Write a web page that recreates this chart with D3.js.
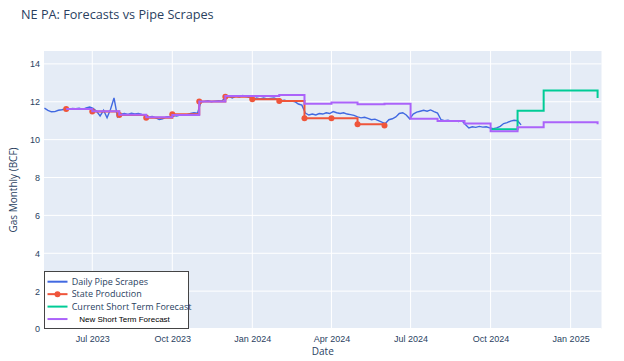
<!DOCTYPE html>
<html>
<head>
<meta charset="utf-8">
<script src="https://cdn.jsdelivr.net/npm/d3@7"></script>
<style>
  body { margin: 0; background: #fff; }
  svg { display: block; font-family: "Open Sans", sans-serif; }
  .tick text { fill: #2a3f5f; font-size: 9px; }
  .legend-label { fill: #2a3f5f; font-size: 9px; }
</style>
</head>
<body>
<svg id="chart" width="624" height="361"></svg>
<script>
// monthly series (first of month)
const stateMonths = ['2023-06-01','2023-07-01','2023-08-01','2023-09-01','2023-10-01','2023-11-01','2023-12-01',
  '2024-01-01','2024-02-01','2024-03-01','2024-04-01','2024-05-01','2024-06-01'];
const stateValues = [11.62, 11.48, 11.30, 11.15, 11.34, 12.01, 12.27, 12.13, 12.04, 11.13, 11.13, 10.81, 10.74];

const currentMonths = ['2024-10-01','2024-11-01','2024-12-01','2025-01-01','2025-02-01'];
const currentValues = [10.55, 11.52, 12.60, 12.60, 12.20];

const newMonths = ['2023-06-01','2023-07-01','2023-08-01','2023-09-01','2023-10-01','2023-11-01','2023-12-01',
  '2024-01-01','2024-02-01','2024-03-01','2024-04-01','2024-05-01','2024-06-01','2024-07-01','2024-08-01',
  '2024-09-01','2024-10-01','2024-11-01','2024-12-01','2025-01-01','2025-02-01'];
const newValues = [11.62, 11.50, 11.32, 11.18, 11.30, 12.01, 12.30, 12.30, 12.35, 11.90, 11.96, 11.87, 11.90,
  11.10, 10.98, 10.85, 10.44, 10.65, 10.92, 10.92, 10.81];

const scrapeStart = '2023-05-07';
const scrapeStepDays = 4;
const scrapeValues = [
  11.66, 11.55, 11.47, 11.48, 11.55, 11.58, 11.62, 11.60, 11.65, 11.63,
  11.66, 11.60, 11.68, 11.72, 11.65, 11.50, 11.25, 11.55, 11.15, 11.60,
  12.20, 11.20, 11.35, 11.38, 11.33, 11.40, 11.36, 11.38, 11.33, 11.32,
  11.20, 11.22, 11.15, 11.06, 11.10, 11.20, 11.22, 11.27, 11.25, 11.30,
  11.28, 11.32, 11.38, 11.42, 11.40, 12.00, 12.02, 12.05, 12.00, 12.03,
  12.06, 12.04, 12.22, 12.28, 12.20, 12.30, 12.25, 12.33, 12.28, 12.22,
  12.12, 12.20, 12.15, 12.20, 12.15, 12.18, 12.20, 12.12, 12.06, 12.08,
  12.03, 12.05, 12.00, 11.88, 11.82, 11.40, 11.30, 11.35, 11.30, 11.38,
  11.35, 11.42, 11.38, 11.48, 11.42, 11.38, 11.42, 11.35, 11.32, 11.28,
  11.20, 11.15, 11.18, 11.12, 11.05, 11.08, 11.00, 10.92, 10.85, 11.05,
  11.10, 11.20, 11.38, 11.42, 11.30, 11.10, 11.35, 11.45, 11.50, 11.55,
  11.50, 11.57, 11.48, 11.40, 11.05, 11.00, 11.02, 10.98, 11.00, 10.96,
  11.00, 10.80, 10.62, 10.68, 10.65, 10.70, 10.66, 10.68, 10.62, 10.58,
  10.62, 10.70, 10.85, 10.90, 10.98, 11.02, 11.00, 10.78
];

const xRange = ['2023-05-06T12:00', '2025-02-05T12:00'];
const yTicks = [0, 2, 4, 6, 8, 10, 12, 14];

const parse = d3.isoParse;
const svg = d3.select('#chart');
const plotLeft = 44, plotRight = 601.5, plotTop = 51, plotBottom = 329;

const x = d3.scaleTime().domain(xRange.map(parse)).range([plotLeft, plotRight]);
const y = d3.scaleLinear().domain([0, 14.68]).range([plotBottom, plotTop]);

svg.append('text')
  .attr('x', 21).attr('y', 18.5)
  .attr('fill', '#2a3f5f').attr('font-size', 12.7)
  .text('NE PA: Forecasts vs Pipe Scrapes');

svg.append('rect')
  .attr('x', plotLeft).attr('y', plotTop)
  .attr('width', plotRight - plotLeft).attr('height', plotBottom - plotTop)
  .attr('fill', '#e5ecf6');

// grid
const xTicks = x.ticks(d3.timeMonth.every(3));
svg.append('g').selectAll('line').data(xTicks).join('line')
  .attr('x1', (d) => x(d)).attr('x2', (d) => x(d))
  .attr('y1', plotTop).attr('y2', plotBottom)
  .attr('stroke', '#fff').attr('stroke-width', 1);
svg.append('g').selectAll('line').data(yTicks).join('line')
  .attr('x1', plotLeft).attr('x2', plotRight)
  .attr('y1', (d) => y(d)).attr('y2', (d) => y(d))
  .attr('stroke', '#fff').attr('stroke-width', (d) => (d === 0 ? 2 : 1));

// axes
const xAxis = svg.append('g')
  .attr('transform', `translate(0,${plotBottom})`)
  .call(d3.axisBottom(x).tickValues(xTicks).tickFormat(d3.timeFormat('%b %Y')).tickSize(0).tickPadding(7));
xAxis.select('.domain').remove();

const yAxis = svg.append('g')
  .attr('transform', `translate(${plotLeft},0)`)
  .call(d3.axisLeft(y).tickValues(yTicks).tickSize(0).tickPadding(4));
yAxis.select('.domain').remove();

svg.append('text')
  .attr('x', (plotLeft + plotRight) / 2).attr('y', 355)
  .attr('text-anchor', 'middle').attr('fill', '#2a3f5f').attr('font-size', 10)
  .text('Date');
svg.append('text')
  .attr('transform', `translate(17,${(plotTop + plotBottom) / 2}) rotate(-90)`)
  .attr('text-anchor', 'middle').attr('fill', '#2a3f5f').attr('font-size', 10)
  .text('Gas Monthly (BCF)');

const plot = svg.append('g');

// scrape series
const scrapeDates = scrapeValues.map((v, i) => d3.timeDay.offset(parse(scrapeStart), i * scrapeStepDays));
const scrapeData = scrapeValues.map((v, i) => ({ date: scrapeDates[i], value: v }));
const lineLinear = d3.line().x((d) => x(d.date)).y((d) => y(d.value));
const lineStep = d3.line().x((d) => x(d.date)).y((d) => y(d.value)).curve(d3.curveStepAfter);

plot.append('path').datum(scrapeData)
  .attr('d', lineLinear)
  .attr('fill', 'none').attr('stroke', '#4169e1').attr('stroke-width', 1.4);

const stateData = stateMonths.map((m, i) => ({ date: parse(m), value: stateValues[i] }));
plot.append('path').datum(stateData)
  .attr('d', lineStep)
  .attr('fill', 'none').attr('stroke', '#ef553b').attr('stroke-width', 2);
plot.append('g').selectAll('circle').data(stateData).join('circle')
  .attr('cx', (d) => x(d.date)).attr('cy', (d) => y(d.value))
  .attr('r', 3).attr('fill', '#ef553b');

const currentData = currentMonths.map((m, i) => ({ date: parse(m), value: currentValues[i] }));
plot.append('path').datum(currentData)
  .attr('d', lineStep)
  .attr('fill', 'none').attr('stroke', '#00cc96').attr('stroke-width', 2);

const newData = newMonths.map((m, i) => ({ date: parse(m), value: newValues[i] }));
plot.append('path').datum(newData)
  .attr('d', lineStep)
  .attr('fill', 'none').attr('stroke', '#ab63fa').attr('stroke-width', 2);

// legend
const legendItems = [
  { name: 'Daily Pipe Scrapes', color: '#4169e1', marker: false },
  { name: 'State Production', color: '#ef553b', marker: true },
  { name: 'Current Short Term Forecast', color: '#00cc96', marker: false },
  { name: 'New Short Term Forecast', color: '#ab63fa', marker: false, plain: true },
];
const legend = svg.append('g');
legend.append('rect')
  .attr('x', 44.5).attr('y', 271.5).attr('width', 144).attr('height', 57)
  .attr('fill', '#fff').attr('stroke', '#444').attr('stroke-width', 1);
const item = legend.selectAll('g.item').data(legendItems).join('g')
  .attr('class', 'item')
  .attr('transform', (d, i) => `translate(0,${281.7 + i * 12.45})`);
item.append('line')
  .attr('x1', 47.5).attr('x2', 67.5)
  .attr('stroke', (d) => d.color).attr('stroke-width', 2);
item.filter((d) => d.marker).append('circle')
  .attr('cx', 57.5).attr('r', 3).attr('fill', (d) => d.color);
item.append('text')
  .attr('x', (d) => (d.plain ? 79.3 : 71.7))
  .attr('y', 3.3)
  .attr('class', (d) => (d.plain ? null : 'legend-label'))
  .attr('font-family', (d) => (d.plain ? 'Liberation Sans, Arial, sans-serif' : null))
  .attr('font-size', (d) => (d.plain ? 8 : null))
  .attr('fill', (d) => (d.plain ? '#000' : null))
  .text((d) => d.name);
</script>
</body>
</html>
